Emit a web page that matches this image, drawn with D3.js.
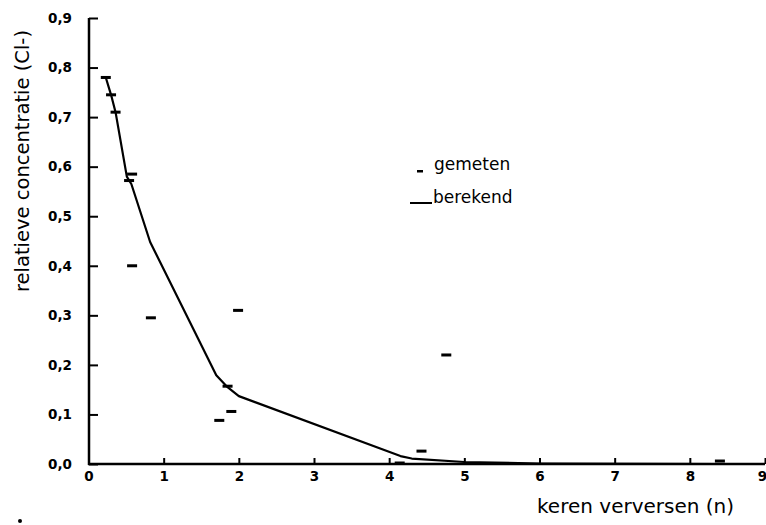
<!DOCTYPE html>
<html><head><meta charset="utf-8">
<script src="https://cdn.jsdelivr.net/npm/d3@7"></script>
<style>body{margin:0;background:#fff}svg{display:block}</style>
</head><body>
<svg id="c" width="766" height="525"></svg>
<script>
// measured (gemeten) points
const measuredX = [0.23,0.30,0.36,0.58,0.54,0.58,0.83,1.99,1.85,1.74,1.90,4.14,4.43,4.76,8.40];
const measuredY = [0.78,0.745,0.71,0.585,0.572,0.40,0.295,0.31,0.157,0.088,0.106,0.002,0.026,0.22,0.006];
// calculated (berekend) line
const calcX = [0.23,0.30,0.36,0.51,0.57,0.82,1.70,1.85,2.00,4.15,4.30,5.00,6.00,8.40];
const calcY = [0.78,0.745,0.71,0.58,0.565,0.448,0.179,0.155,0.137,0.016,0.011,0.004,0.001,0.0];
const xTicks = [0,1,2,3,4,5,6,7,8,9];
const yTicks = [0,0.1,0.2,0.3,0.4,0.5,0.6,0.7,0.8,0.9];
const yTickLabels = ["0,0","0,1","0,2","0,3","0,4","0,5","0,6","0,7","0,8","0,9"];
const xTitle = "keren verversen (n)";
const yTitle = "relatieve concentratie (Cl-)";
const legendLabels = ["gemeten","berekend"];

const svg = d3.select("#c");
const x = d3.scaleLinear().domain([0,9]).range([88.5,765]);
const y = d3.scaleLinear().domain([0,0.9]).range([464,18]);
const font = "'DejaVu Sans', Verdana, sans-serif";

// axes
const xAxis = svg.append("g").attr("transform","translate(0,464)")
  .call(d3.axisBottom(x).tickValues(xTicks).tickSize(-6).tickPadding(7).tickFormat(d3.format("d")));
const yAxis = svg.append("g").attr("transform","translate(89,0)")
  .call(d3.axisLeft(y).tickValues(yTicks).tickSize(-9).tickPadding(17).tickFormat((d,i)=>yTickLabels[i]));
[xAxis,yAxis].forEach(a=>{
  a.select(".domain").attr("stroke","#000").attr("stroke-width",2.5);
  a.selectAll(".tick line").attr("stroke","#000").attr("stroke-width",2);
  a.selectAll(".tick text").attr("fill","#000").style("font-family",font)
   .style("font-weight","bold").style("font-size","13.5px");
});
xAxis.select(".domain").attr("d","M88,0H765");
yAxis.select(".domain").attr("d","M0,18V465");
xAxis.selectAll(".tick").filter(d=>d===9).select("text").attr("dx",-3);

// calculated line
const pts = calcX.map((v,i)=>[v,calcY[i]]);
svg.append("path").datum(pts)
  .attr("d", d3.line().x(d=>x(d[0])).y(d=>y(d[1])))
  .attr("fill","none").attr("stroke","#000").attr("stroke-width",2.2)
  .attr("stroke-linejoin","round");

// measured dashes
svg.append("g").selectAll("rect").data(measuredX.map((v,i)=>[v,measuredY[i]])).join("rect")
  .attr("x",d=>x(d[0])-5).attr("y",d=>y(d[1])-1.5)
  .attr("width",10).attr("height",3).attr("fill","#000");

// legend
svg.append("rect").attr("x",417).attr("y",170).attr("width",6).attr("height",2.5).attr("fill","#000");
svg.append("text").attr("x",434).attr("y",170).text(legendLabels[0])
  .style("font-family",font).style("font-size","17px").attr("fill","#000");
svg.append("line").attr("x1",410).attr("x2",432).attr("y1",203).attr("y2",203)
  .attr("stroke","#000").attr("stroke-width",2);
svg.append("text").attr("x",433).attr("y",203).text(legendLabels[1])
  .style("font-family",font).style("font-size","17px").attr("fill","#000");

// titles
svg.append("text").attr("x",537).attr("y",513).text(xTitle)
  .style("font-family",font).style("font-size","20px").attr("fill","#000");
svg.append("text").attr("transform","translate(29,161) rotate(-90)").attr("text-anchor","middle")
  .text(yTitle).style("font-family",font).style("font-size","19.5px").attr("fill","#000");

// stray dot
svg.append("circle").attr("cx",20).attr("cy",521).attr("r",2).attr("fill","#000");
</script>
</body></html>
